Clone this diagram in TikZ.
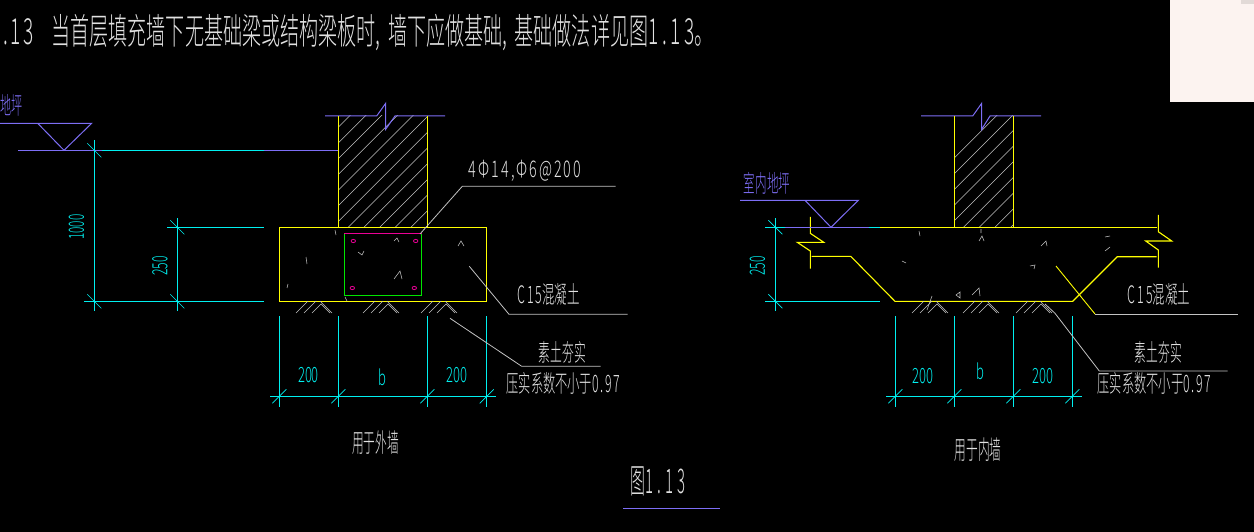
\documentclass[tikz,border=0pt]{standalone}
\usepackage{fontspec}
\setmainfont{Noto Sans CJK SC Light}
\usepackage{tikz}
\usetikzlibrary{positioning,calc}
\definecolor{cadblue}{RGB}{125,110,245}
\definecolor{cadcyan}{RGB}{0,240,240}
\definecolor{cadyellow}{RGB}{255,255,0}
\definecolor{cadgreen}{RGB}{0,230,0}
\definecolor{cadpink}{RGB}{235,0,150}
\definecolor{cadgrey}{RGB}{195,195,195}
\definecolor{cadwhite}{RGB}{225,225,225}
\definecolor{cadpaper}{RGB}{252,243,240}
\definecolor{cadpaperb}{RGB}{226,218,215}
\tikzset{
	wall/.style={cadyellow, line width=1.1pt},
	level/.style={cadblue, line width=1pt},
	dimline/.style={cadcyan, line width=.9pt},
	leader/.style={cadgrey, line width=.8pt},
	thin grey/.style={cadgrey, line width=.55pt},
	cadtext/.style 2 args={inner sep=0pt, text=cadwhite, xscale=#2, font=\fontsize{#1}{#1}\selectfont},
	dimtext/.style 2 args={inner sep=0pt, text=cadcyan, xscale=#2, font=\fontsize{#1}{#1}\selectfont},
	bluetext/.style 2 args={inner sep=0pt, text=cadblue, xscale=#2, font=\fontsize{#1}{#1}\selectfont},
}
% digits of the drawing stand further apart than the font's
\newcommand{\spaced}[2]{{\addfontfeature{LetterSpace=#1}#2}}
% ground hatching below a footing
\newcommand{\groundmark}[1]{
	\draw[thin grey] (#1,313) -- ++(12,-12) (#1+8,313) -- ++(12,-12) (#1+16,313) -- ++(9,-9) -- ++(9,9) (#1+24,301) -- ++(12,12);
}
% tick of a dimension line
\newcommand{\dimtick}[2]{
	\draw[dimline, line width=.7pt] (#1-7,#2+7) -- (#1+7,#2-7);
}
\newcommand{\dimback}[2]{
	\draw[dimline, line width=.7pt] (#1-7,#2-7) -- (#1+7,#2+7);
}
\begin{document}
\begin{tikzpicture}[x=1pt,y=-1pt]
	\useasboundingbox (0,0) rectangle (1254,532);
	\fill[black] (0,0) rectangle (1254,532);
	\fill[cadpaper] (1170,0) rectangle (1254,102);
	\fill[cadpaperb] (1241,0) rectangle (1254,4);
	
	% title
	\node[cadtext={36}{.53}, anchor=west] (title) at (3,33) {\spaced{15}{.13}\hspace{33pt}当首层填充墙下无基础梁或结构梁板时,\hspace{14pt}墙下应做基础,\hspace{14pt}基础做法详见图\spaced{19}{1.13}。};
	
	% outer wall
	\begin{scope}
		\clip (338.3,116) rectangle (427.3,227.3);
		\foreach \i in {0,...,13} {
			\draw[thin grey] (338.3,127.3+\i*15.7) -- ++(120,-120);
		}
	\end{scope}
	\draw[level] (325,116) -- (376.7,116) -- (385.7,103.3) -- (385.7,129.3) -- (395,116) -- (445,116);
	\draw[wall] (338.3,116) -- (338.3,227.3) (427.3,116) -- (427.3,227.3);
	\draw[wall] (279.3,227.3) rectangle (486.7,301.3);
	\draw[cadgreen, line width=.9pt] (344.3,233.3) rectangle (421.7,295.3);
	\draw[cadpink, line width=.9pt] (344.3,233.3) -- (421.7,233.3);
	\foreach \bx/\by in {353.3/241,415.7/241,352.3/288,414.3/288} {
		\draw[cadpink, line width=.8pt] (\bx,\by) circle[x radius=2.2, y radius=1.6];
	}
	% aggregate
	\draw[thin grey] (335,230) -- (336,235) (306,257) -- (307,264) (288,284) -- (287,288) (394,241) -- (397,238) -- (399,242) (358,252) -- (362,255) -- (364,251) (394,279) -- (400,271) -- (402,279) (458,246) -- (461,241) -- (464,246) (345,297) -- (347,301);
	
	% levels and dimensions, outer
	\draw[level] (0,123.3) -- (91.7,123.3) -- (64,150.3) -- (37.7,123.3);
	\draw[level] (18,150.3) -- (102,150.3) (264,150.3) -- (338.3,150.3);
	\draw[dimline] (102,150.3) -- (264,150.3);
	\draw[dimline] (94.3,140) -- (94.3,310.7) (177.3,218.3) -- (177.3,310.7);
	\draw[dimline] (167,227.3) -- (264,227.3) (84,301.3) -- (264,301.3);
	\dimback{94.3}{150.3}
	\dimback{94.3}{301.3}
	\dimback{177.3}{227.3}
	\dimback{177.3}{301.3}
	\node[bluetext={24}{.46}] (ground) at (12,105) {地坪};
	\node[rotate=90, dimtext={21}{.56}] (dimA) at (76.5,227) {1000};
	\node[rotate=90, dimtext={21}{.58}] (dimB) at (160,266) {250};
	
	\foreach \x in {279.3,338.3,427.3,486.7} {
		\draw[dimline] (\x,316) -- (\x,406.7);
		\dimtick{\x}{396.3}
	}
	\draw[dimline] (270,396.3) -- (495.7,396.3);
	\node[dimtext={21}{.62}] (wA) at (308.5,375) {200};
	\node[dimtext={21}{.62}] (wB) at (382,377) {b};
	\node[dimtext={21}{.62}] (wC) at (457,375) {200};
	
	\groundmark{296}
	\groundmark{363}
	\groundmark{421}
	
	% leaders, outer
	\draw[leader] (420,234) -- (462.3,186.3) -- (615.7,186.3);
	\draw[leader] (469.3,266.3) -- (509,314.3) -- (627.7,314.3);
	\draw[leader] (450,318.3) -- (521.7,366.3) -- (600.7,366.3);
	\node[cadtext={23}{.62}] (rebar) at (525,171) {\spaced{15}{4Φ14,Φ6@200}};
	\node[cadtext={24}{.52}] (concrete) at (548.5,294) {\spaced{15}{C15}混凝土};
	\node[cadtext={24}{.49}] (soil) at (562.5,352) {素土夯实};
	\node[cadtext={24}{.51}] (soilb) at (563.5,383) {压实系数不小于\spaced{15}{0.97}};
	\node[cadtext={26}{.45}] (useout) at (375.5,443) {用于外墙};
	
	% inner wall
	\begin{scope}
		\clip (954.3,116) rectangle (1013.3,227.3);
		\foreach \i in {0,...,11} {
			\draw[thin grey] (954.3,158+\i*15.7) -- ++(120,-120);
		}
	\end{scope}
	\draw[level] (921,116) -- (972.7,116) -- (981.7,103.3) -- (981.7,129.3) -- (990,116) -- (1041,116);
	\draw[wall] (954.3,116) -- (954.3,227.3) (1013.3,116) -- (1013.3,227.3);
	\draw[wall] (880,227.3) -- (1156.7,227.3);
	\draw[wall] (810.3,217) -- (810.3,233.3) -- (823.7,242.3) -- (797.3,242.3) -- (810.3,251) -- (810.3,268.7);
	\draw[wall] (811.7,256.3) -- (850.7,256.3) -- (895,301.3) -- (1072.7,301.3) -- (1117.3,256.7) -- (1156.7,256.7);
	\draw[wall] (1158.3,215) -- (1158.3,231.7) -- (1171.7,241) -- (1145.7,241) -- (1158.3,250) -- (1158.3,267.7);
	\draw[thin grey] (919,231) -- (920,236) (981,229) -- (981,233) (979,241) -- (982,236) -- (984,241) (902,261) -- (906,263) (956,295) -- (960,292) -- (960,298) -- cycle (972,295) -- (979,288) -- (980,296) (1041,246) -- (1046,241) -- (1047,246) (1030,266) -- (1035,265) -- (1034,269) (1105,237) -- (1110,236) (1105,251) -- (1110,247) (927,310) -- (932,296);
	
	% levels and dimensions, inner
	\draw[level] (740,200.3) -- (858.3,200.3) -- (831,227.3) -- (805,200.3);
	\draw[level] (785,227.3) -- (869,227.3);
	\draw[dimline] (765,227.3) -- (785,227.3) (869,227.3) -- (880,227.3) (765,301.3) -- (880,301.3);
	\draw[dimline] (775.3,218.3) -- (775.3,310.7);
	\dimback{775.3}{227.3}
	\dimback{775.3}{301.3}
	\node[bluetext={24}{.48}] (indoor) at (767,183) {室内地坪};
	\node[rotate=90, dimtext={21}{.58}] (dimC) at (757.5,266) {250};
	
	\foreach \x in {895.3,954.3,1013.3,1072.3} {
		\draw[dimline] (\x,316) -- (\x,406.7);
		\dimtick{\x}{396.3}
	}
	\draw[dimline] (886,396.3) -- (1081.7,396.3);
	\node[dimtext={21}{.62}] (nA) at (923,376) {200};
	\node[dimtext={21}{.62}] (nB) at (980.5,371) {b};
	\node[dimtext={21}{.62}] (nC) at (1043,376) {200};
	
	\groundmark{912}
	\groundmark{963}
	\groundmark{1016}
	
	% leaders, inner
	\draw[wall, line width=.9pt] (1056,266) -- (1095,314);
	\draw[leader] (1095,314) -- (1237.7,314);
	\draw[leader] (1045,304) -- (1055,313.3) -- (1099.3,371) -- (1227.7,371);
	\node[cadtext={24}{.52}] (concreteb) at (1159,294) {\spaced{15}{C15}混凝土};
	\node[cadtext={24}{.49}] (soilc) at (1158.5,352) {素土夯实};
	\node[cadtext={24}{.51}] (soild) at (1154.5,383) {压实系数不小于\spaced{15}{0.97}};
	\node[cadtext={26}{.45}] (usein) at (978,450) {用于内墙};
	
	% caption
	\node[cadtext={34}{.44}] (caption) at (658,481) {图\spaced{27}{1.13}};
	\draw[level, line width=.8pt] (623,508) -- (720,508);
\end{tikzpicture}
\end{document}
